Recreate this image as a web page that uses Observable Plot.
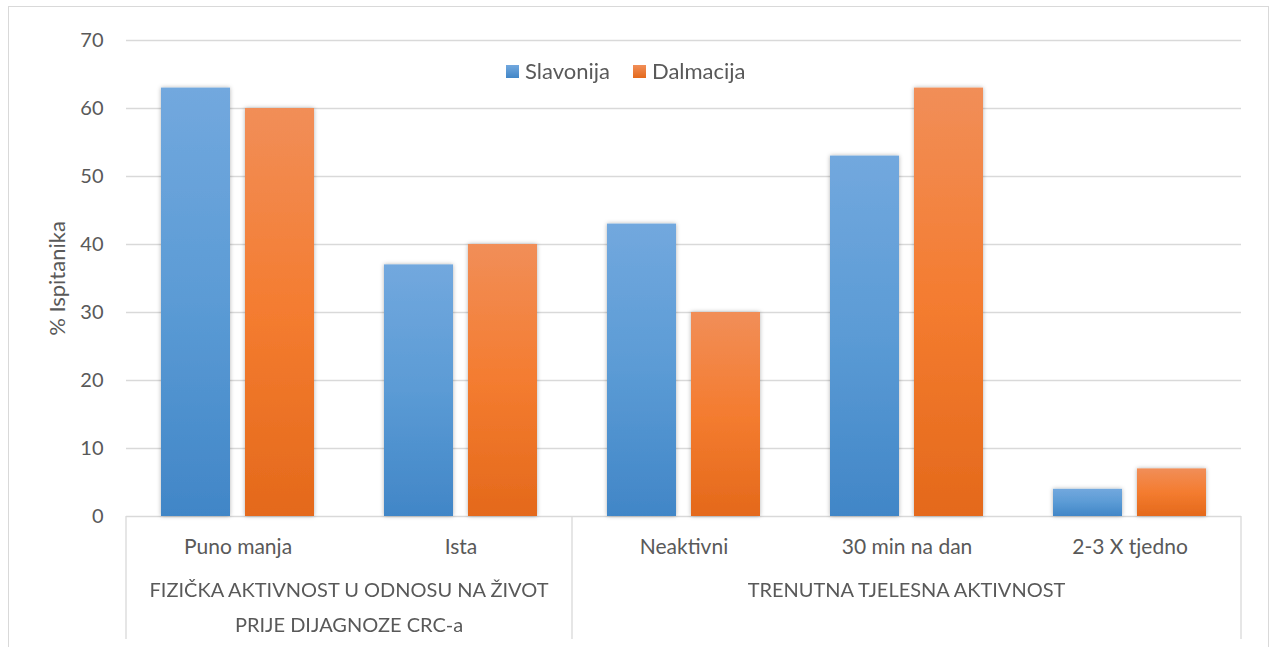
<!DOCTYPE html>
<html>
<head>
<meta charset="utf-8">
<script src="https://cdn.jsdelivr.net/npm/d3@7"></script>
<script src="https://cdn.jsdelivr.net/npm/@observablehq/plot@0.6"></script>
<style>
  html, body { margin: 0; padding: 0; background: #fff; overflow: hidden; }
  #wrap { position: relative; width: 1273px; height: 647px; }
  #frame { position: absolute; left: 8px; top: 6px; width: 1261px; height: 700px; border: 1.5px solid #d9d9d9; box-sizing: border-box; pointer-events: none; }
  #legend { position: absolute; top: 57px; left: 506px; display: flex; align-items: center; font-family: Lato, sans-serif; font-size: 22px; line-height: 28px; color: #595959; }
  #legend .item { display: flex; align-items: center; margin-right: 23px; }
  #legend .sw { width: 13px; height: 13px; margin-right: 6px; }
  svg { position: absolute; left: 0; top: 0; }
</style>
</head>
<body>
<div id="wrap">
  <div id="frame"></div>
  <div id="chart"></div>
  <div id="legend"></div>
</div>
<script>
const categories = ["Puno manja", "Ista", "Neaktivni", "30 min na dan", "2-3 X tjedno"];
const series = ["Slavonija", "Dalmacija"];
const slavonija = [63, 37, 43, 53, 4];
const dalmacija = [60, 40, 30, 63, 7];
const yTicks = [0, 10, 20, 30, 40, 50, 60, 70];
const yLabel = "% Ispitanika";
const groupLabels = ["FIZIČKA AKTIVNOST U ODNOSU NA ŽIVOT\nPRIJE DIJAGNOZE CRC-a", "TRENUTNA TJELESNA AKTIVNOST"];
const groupSpans = [["Puno manja", "Ista"], ["Neaktivni", "30 min na dan", "2-3 X tjedno"]];

const colors = {
  Slavonija: ["#72a8de", "#5b9bd5", "#4186c7"],
  Dalmacija: ["#f18e58", "#f47c30", "#e4691b"]
};
const gradId = {Slavonija: "gBlue", Dalmacija: "gOrange"};
const FONT = "Lato, sans-serif";

const data = categories.flatMap((c, i) => [
  {cat: c, series: series[0], value: slavonija[i]},
  {cat: c, series: series[1], value: dalmacija[i]}
]);

const plot = Plot.plot({
  width: 1273,
  height: 647,
  marginLeft: 126,
  marginRight: 32,
  marginTop: 40,
  marginBottom: 131,
  style: {fontFamily: FONT, fontSize: "20px", color: "#595959", background: "transparent", overflow: "visible"},
  fx: {domain: categories, padding: 0, axis: null, label: null},
  x: {domain: series, paddingInner: 0.176, paddingOuter: 0.4, axis: null},
  y: {domain: [0, 70], ticks: yTicks, tickSize: 0, tickPadding: 23, label: null},
  marks: [
    Plot.ruleY(yTicks, {stroke: "#d9d9d9", strokeWidth: 1.3}),
    Plot.barY(data.filter(d => d.series === series[0]), {fx: "cat", x: "series", y: "value", fill: "url(#gBlue)"}),
    Plot.barY(data.filter(d => d.series === series[1]), {fx: "cat", x: "series", y: "value", fill: "url(#gOrange)"}),
    Plot.text(categories, {fx: d => d, frameAnchor: "bottom", dy: 31, lineAnchor: "middle", textAnchor: "middle", fontSize: 21, fill: "#595959"}),
    Plot.text([yLabel], {fx: () => categories[0], frameAnchor: "left", rotate: -90, dx: -69, textAnchor: "middle", lineAnchor: "middle", fontSize: 22, fill: "#595959"})
  ]
});

document.getElementById("chart").appendChild(plot);

const svg = d3.select(plot);
const defs = svg.insert("defs", ":first-child");
for (const s of series) {
  const g = defs.append("linearGradient").attr("id", gradId[s]).attr("x1", 0).attr("y1", 0).attr("x2", 0).attr("y2", 1);
  g.append("stop").attr("offset", "0%").attr("stop-color", colors[s][0]);
  g.append("stop").attr("offset", "50%").attr("stop-color", colors[s][1]);
  g.append("stop").attr("offset", "100%").attr("stop-color", colors[s][2]);
}
const f = defs.append("filter").attr("id", "shadow").attr("x", "-20%").attr("y", "-20%").attr("width", "140%").attr("height", "140%");
f.append("feDropShadow").attr("dx", 0).attr("dy", 0).attr("stdDeviation", 2).attr("flood-color", "#000").attr("flood-opacity", 0.3);
svg.selectAll('g[aria-label="bar"]').attr("filter", "url(#shadow)");

// Multi-level category axis decoration, positioned with the plot's own scales
const fx = plot.scale("fx");
const ys = plot.scale("y");
const step = fx.apply(categories[1]) - fx.apply(categories[0]);
const bw = fx.bandwidth != null ? fx.bandwidth : step;
const y0 = ys.apply(0);
const bottom = 647 - 8;
const edges = [fx.apply(groupSpans[0][0]), fx.apply(groupSpans[1][0]), fx.apply(groupSpans[1][groupSpans[1].length - 1]) + bw];
const deco = svg.append("g").attr("stroke", "#d9d9d9").attr("stroke-width", 1.3);
for (const e of edges) deco.append("line").attr("x1", e).attr("x2", e).attr("y1", y0).attr("y2", bottom);

const gt = svg.append("g").attr("fill", "#595959").attr("font-family", FONT).attr("font-size", "20px").attr("text-anchor", "middle");
groupSpans.forEach((span, i) => {
  const cx = (fx.apply(span[0]) + fx.apply(span[span.length - 1]) + bw) / 2;
  const lines = groupLabels[i].split("\n");
  const t = gt.append("text").attr("x", cx).attr("y", y0 + 76).attr("dominant-baseline", "middle");
  lines.forEach((ln, j) => t.append("tspan").attr("x", cx).attr("dy", j === 0 ? 0 : 35).text(ln));
});

// Legend
const legend = d3.select("#legend");
for (const s of series) {
  const it = legend.append("div").attr("class", "item");
  it.append("div").attr("class", "sw").style("background", `linear-gradient(${colors[s][0]}, ${colors[s][2]})`);
  it.append("span").text(s);
}
</script>
</body>
</html>
